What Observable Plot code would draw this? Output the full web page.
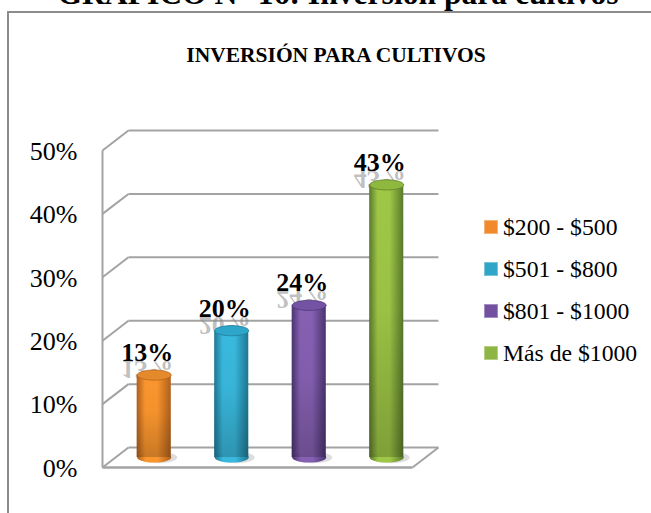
<!DOCTYPE html>
<html>
<head>
<meta charset="utf-8">
<script src="https://cdn.jsdelivr.net/npm/d3@7"></script>
<script src="https://cdn.jsdelivr.net/npm/@observablehq/plot@0.6"></script>
<style>
html,body{margin:0;padding:0;background:#fff;width:651px;height:513px;overflow:hidden;font-family:"Liberation Serif",serif;color:#000}
#wrap{position:relative;width:651px;height:513px;overflow:hidden}
#heading{position:absolute;left:0;width:676px;top:-24px;text-align:center;font-weight:bold;font-size:31.6px;line-height:36px;white-space:nowrap;margin:0}
#frame{position:absolute;left:7px;top:11px;width:700px;height:600px;border:2px solid #8c8c8c;box-sizing:border-box}
#chart{position:absolute;left:0;top:0}
#chart svg{display:block;background:transparent}
#subhead{position:absolute;left:0;width:672px;top:43px;text-align:center;font-weight:bold;font-size:21.5px;line-height:24px;white-space:nowrap}
#legend{position:absolute;left:484px;top:213px}
.row{position:absolute;left:0;height:28px;white-space:nowrap;font-size:23.7px;line-height:28px}
.row i{position:absolute;left:0;top:7px;width:14px;height:14px;box-sizing:border-box;border:1px solid rgba(255,255,255,.35)}
.row span{position:absolute;left:19px;top:0}
</style>
</head>
<body>
<div id="wrap">
  <div id="frame"></div>
  <h1 id="heading"></h1>
  <div id="subhead"></div>
  <div id="chart"></div>
  <div id="legend"></div>
</div>
<script>
const heading = "GRÁFICO N° 16: Inversión para cultivos";
const subtitle = "INVERSIÓN PARA CULTIVOS";
const categories = ["$200 - $500", "$501 - $800", "$801 - $1000", "Más de $1000"];
const values = [13, 20, 24, 43];
const valueLabels = ["13%", "20%", "24%", "43%"];
const yTicks = [0, 10, 20, 30, 40, 50];
const bodyEdge = ["#b0601c", "#1f7894", "#4a346f", "#5a7a2c"];
const bodyMid = ["#fb962e", "#39b9de", "#8660b2", "#9fc746"];
const swatch = ["#f08a2c", "#2fa5c8", "#7350a0", "#8fb544"];
const topFill = ["#e58a2c", "#2ea6ca", "#7452a4", "#8fb83e"];

// oblique projection of the 3-D box, in data units
const depthX = 0.335, depthY = 3.15;
const px = (x, d) => x + d * depthX;
const py = (y, d) => y + d * depthY;
const halfWidth = 0.22;
const rows = categories.map((c, i) => ({c, i, v: values[i], label: valueLabels[i], x: px(i + 0.5, 0.5), y0: py(0, 0.5), y1: py(values[i], 0.5)}));

const ellipse = {
  draw(ctx, size) {
    const rx = Math.sqrt(size / Math.PI), ry = rx * 0.3, k = 0.5523;
    ctx.moveTo(-rx, 0);
    ctx.bezierCurveTo(-rx, -k * ry, -k * rx, -ry, 0, -ry);
    ctx.bezierCurveTo(k * rx, -ry, rx, -k * ry, rx, 0);
    ctx.bezierCurveTo(rx, k * ry, k * rx, ry, 0, ry);
    ctx.bezierCurveTo(-k * rx, ry, -rx, k * ry, -rx, 0);
    ctx.closePath();
  }
};

const defs = () => {
  const stops = (a, b) => `<stop offset="0" stop-color="${a}"/><stop offset=".25" stop-color="${b}"/><stop offset=".6" stop-color="${b}"/><stop offset="1" stop-color="${a}"/>`;
  const html = categories.map((_, i) =>
    `<linearGradient id="g${i}" x1="0" x2="1" y1="0" y2="0">${stops(bodyEdge[i], bodyMid[i])}</linearGradient>`).join("") +
    `<linearGradient id="shade" x1="0" x2="0" y1="0" y2="1"><stop offset="0" stop-color="#000" stop-opacity="0"/><stop offset=".45" stop-color="#000" stop-opacity=".03"/><stop offset="1" stop-color="#000" stop-opacity=".2"/></linearGradient>`;
  return d3.create("svg:defs").html(html).node();
};

const flip = (index, scales, vals, dims, ctx, next) => {
  const g = next(index, scales, vals, dims, ctx);
  d3.select(g).selectAll("text").attr("transform", function () {
    return (this.getAttribute("transform") || "") + " scale(1,-0.95)";
  });
  return g;
};

const gridStroke = "#a3a3a3";
const wall = {stroke: gridStroke, strokeWidth: 2};

const plot = Plot.plot({
  width: 651, height: 513,
  marginLeft: 102, marginRight: 239, marginTop: 150, marginBottom: 46,
  x: {domain: [0, 4], axis: null},
  y: {domain: [0, 50]},
  style: {background: "transparent", fontFamily: "Liberation Serif", overflow: "visible"},
  marks: [
    defs,
    // back wall gridlines and side diagonals
    Plot.link(yTicks, {x1: px(0, 1), x2: px(4, 1), y1: d => py(d, 1), y2: d => py(d, 1), ...wall}),
    Plot.link(yTicks, {x1: px(0, 0), x2: px(0, 1), y1: d => py(d, 0), y2: d => py(d, 1), ...wall}),
    Plot.link([0], {x1: 0, x2: 0, y1: 0, y2: 50, ...wall}),
    Plot.link([0], {x1: 0, x2: 4, y1: 0, y2: 0, ...wall, strokeWidth: 2.5}),
    Plot.link([0], {x1: px(4, 0), x2: px(4, 1), y1: py(0, 0), y2: py(0, 1), ...wall}),
    // soft floor shadows
    Plot.dot(rows, {x: d => d.x + 0.05, y: "y0", r: 19, symbol: ellipse, fill: "#555", fillOpacity: 0.2, style: {filter: "blur(2px)"}}),
    // mirrored value labels
    Plot.text(rows, {x: "x", y: "y1", text: "label", dx: -7, dy: -14, lineAnchor: "bottom", fontSize: 26, fontWeight: "bold", fill: "#8a8a8a", fillOpacity: 0.55, render: flip, style: {filter: "blur(0.6px)"}}),
    // cylinders
    ...rows.flatMap((d, i) => [
      Plot.rectY([d], {x1: d.x - halfWidth, x2: d.x + halfWidth, y1: d.y0, y2: d.y1, fill: `url(#g${i})`}),
      Plot.dot([d], {x: "x", y: "y0", r: 17, symbol: ellipse, fill: `url(#g${i})`}),
      Plot.rectY([d], {x1: d.x - halfWidth, x2: d.x + halfWidth, y1: d.y0, y2: d.y1, fill: "url(#shade)"}),
      Plot.dot([d], {x: "x", y: "y1", r: 17, symbol: ellipse, fill: topFill[i], stroke: bodyEdge[i], strokeWidth: 1, strokeOpacity: 0.7})
    ]),
    // value labels
    Plot.text(rows, {x: "x", y: "y1", text: "label", dx: -7, dy: -14, lineAnchor: "bottom", fontSize: 26, fontWeight: "bold", fill: "#000"}),
    Plot.axisY({ticks: yTicks, tickSize: 0, tickPadding: 25, label: null, tickFormat: d => d + "%", fontSize: 26, dy: 1, fill: "#000", stroke: "none"})
  ]
});
document.getElementById("chart").append(plot);
document.getElementById("heading").textContent = heading;
document.getElementById("subhead").textContent = subtitle;

const legend = document.getElementById("legend");
categories.forEach((c, i) => {
  const row = document.createElement("div");
  row.className = "row";
  row.style.top = (i * 42) + "px";
  const sw = document.createElement("i");
  sw.style.background = swatch[i];
  const label = document.createElement("span");
  label.textContent = c;
  row.append(sw, label);
  legend.append(row);
});
</script>
</body>
</html>
